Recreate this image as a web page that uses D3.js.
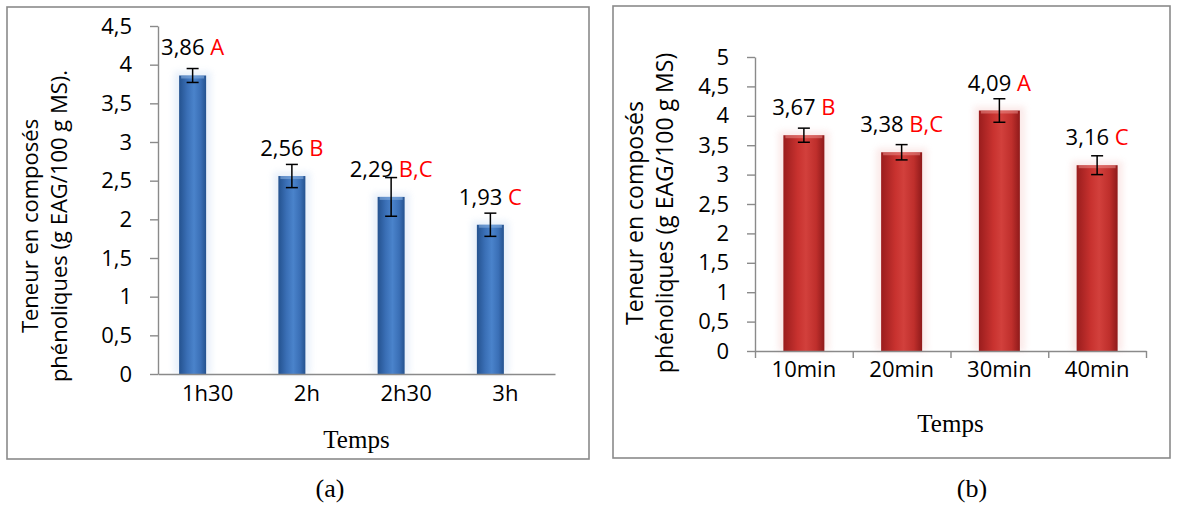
<!DOCTYPE html>
<html>
<head>
<meta charset="utf-8">
<script src="https://cdn.jsdelivr.net/npm/d3@7"></script>
<style>
  body { margin: 0; background: #fff; }
  svg { display: block; }
  .axis path, .axis line { stroke: #8a8a8a; stroke-width: 1.4; }
  .axis text { font-family: "Open Sans", sans-serif; fill: #000; }
</style>
</head>
<body>
<div id="chart"></div>
<script>
// panneau (a) : durée de macération
const catsA = ['1h30', '2h', '2h30', '3h'];
const valsA = [3.86, 2.56, 2.29, 1.93];
const errA = [0.09, 0.15, 0.25, 0.15];
const lettersA = ['A', 'B', 'B,C', 'C'];
const ticksA = [0, 0.5, 1, 1.5, 2, 2.5, 3, 3.5, 4, 4.5];

// panneau (b) : durée d'extraction
const catsB = ['10min', '20min', '30min', '40min'];
const valsB = [3.67, 3.38, 4.09, 3.16];
const errB = [0.12, 0.13, 0.20, 0.16];
const lettersB = ['B', 'B,C', 'A', 'C'];
const ticksB = [0, 0.5, 1, 1.5, 2, 2.5, 3, 3.5, 4, 4.5, 5];

const fmt = v => String(v).replace('.', ',');

const svg = d3.select('#chart')
    .append('svg')
    .attr('width', 1178)
    .attr('height', 527);

const defs = svg.append('defs');

function makeGradient(id, stops) {
    const g = defs.append('linearGradient')
        .attr('id', id)
        .attr('x1', '0%').attr('x2', '100%')
        .attr('y1', '0%').attr('y2', '0%');
    stops.forEach(s => g.append('stop').attr('offset', s[0]).attr('stop-color', s[1]));
}
makeGradient('gradBlue', [['0%', '#24528f'], ['30%', '#3a6fb6'], ['55%', '#4a83cb'], ['80%', '#3a6fb6'], ['100%', '#24528f']]);
makeGradient('gradRed', [['0%', '#9a1d1d'], ['35%', '#c8322f'], ['55%', '#d2403c'], ['80%', '#bf2f2c'], ['100%', '#8f1a1a']]);

defs.append('filter')
    .attr('id', 'halo')
    .attr('x', '-50%').attr('y', '-20%').attr('width', '200%').attr('height', '140%')
    .append('feGaussianBlur')
    .attr('stdDeviation', 3);

function drawPanel(cfg) {
    const g = svg.append('g');

    // cadre
    g.append('rect')
        .attr('x', cfg.box[0]).attr('y', cfg.box[1])
        .attr('width', cfg.box[2]).attr('height', cfg.box[3])
        .attr('fill', 'none')
        .attr('stroke', '#8a8a8a')
        .attr('stroke-width', 1.6);

    const x = d3.scaleBand()
        .domain(cfg.cats)
        .range(cfg.xRange)
        .paddingInner(0).paddingOuter(0);

    const y = d3.scaleLinear()
        .domain([0, cfg.yMax])
        .range(cfg.yRange);

    const cx = c => x(c) + x.bandwidth() / 2 + cfg.barShift;

    // halo autour des barres
    g.selectAll('.halo')
        .data(cfg.vals)
        .enter().append('rect')
        .attr('x', (d, i) => cx(cfg.cats[i]) - cfg.barW / 2 - 5)
        .attr('y', d => y(d) - 4)
        .attr('width', cfg.barW + 10)
        .attr('height', d => y(0) - y(d) + 4)
        .attr('fill', cfg.haloColor)
        .attr('opacity', 0.35)
        .attr('filter', 'url(#halo)');

    g.selectAll('.bar')
        .data(cfg.vals)
        .enter().append('rect')
        .attr('x', (d, i) => cx(cfg.cats[i]) - cfg.barW / 2)
        .attr('y', d => y(d))
        .attr('width', cfg.barW)
        .attr('height', d => y(0) - y(d))
        .attr('fill', cfg.fill);

    // reflet en haut de barre
    g.selectAll('.cap')
        .data(cfg.vals)
        .enter().append('rect')
        .attr('x', (d, i) => cx(cfg.cats[i]) - cfg.barW / 2 + 2)
        .attr('y', d => y(d))
        .attr('width', cfg.barW - 4)
        .attr('height', 3)
        .attr('fill', cfg.capColor)
        .attr('opacity', 0.55);

    // axes
    const yAxis = g.append('g')
        .attr('class', 'axis')
        .attr('transform', `translate(${cfg.xRange[0]},0)`)
        .call(d3.axisLeft(y).tickValues(cfg.ticks).tickFormat(fmt)
            .tickSize(8).tickSizeOuter(0).tickPadding(18));
    yAxis.selectAll('text').style('font-size', cfg.tickFont + 'px');

    const xAxis = g.append('g')
        .attr('class', 'axis')
        .attr('transform', `translate(0,${cfg.yRange[0]})`)
        .call(d3.axisBottom(x).tickSize(0).tickSizeOuter(0));
    xAxis.selectAll('text')
        .attr('y', cfg.catLabelY)
        .attr('dy', 0)
        .style('font-size', cfg.tickFont + 'px');

    if (cfg.boundaryTicks) {
        const xb = d3.scaleLinear().domain([0, cfg.cats.length]).range(cfg.xRange);
        const tb = g.append('g')
            .attr('class', 'axis')
            .attr('transform', `translate(0,${cfg.yRange[0]})`)
            .call(d3.axisBottom(xb).tickValues(d3.range(cfg.cats.length + 1))
                .tickFormat('').tickSize(7).tickSizeOuter(0));
        tb.select('.domain').remove();
    }

    // barres d'erreur
    const eb = g.selectAll('.err')
        .data(cfg.vals)
        .enter().append('g');
    eb.append('line')
        .attr('x1', (d, i) => cx(cfg.cats[i])).attr('x2', (d, i) => cx(cfg.cats[i]))
        .attr('y1', (d, i) => y(d + cfg.err[i])).attr('y2', (d, i) => y(d - cfg.err[i]))
        .attr('stroke', '#000').attr('stroke-width', 1.5);
    [1, -1].forEach(s => {
        eb.append('line')
            .attr('x1', (d, i) => cx(cfg.cats[i]) - 6).attr('x2', (d, i) => cx(cfg.cats[i]) + 6)
            .attr('y1', (d, i) => y(d + s * cfg.err[i])).attr('y2', (d, i) => y(d + s * cfg.err[i]))
            .attr('stroke', '#000').attr('stroke-width', 1.5);
    });

    // étiquettes de valeurs
    const lab = g.selectAll('.lab')
        .data(cfg.vals)
        .enter().append('text')
        .attr('x', (d, i) => cx(cfg.cats[i]))
        .attr('y', d => y(d) - 20)
        .attr('text-anchor', 'middle')
        .style('font-family', '"Open Sans", sans-serif')
        .style('font-size', cfg.labFont + 'px');
    lab.append('tspan').attr('fill', '#000').text(d => fmt(d.toFixed(2)));
    lab.append('tspan').attr('fill', '#ff0000').text((d, i) => ' ' + cfg.letters[i]);

    // titre de l'axe Y, deux lignes
    const ty = g.append('text')
        .attr('transform', `translate(${cfg.yTitleX},${cfg.yTitleY}) rotate(-90)`)
        .attr('text-anchor', 'middle')
        .style('font-family', '"Open Sans", sans-serif')
        .style('font-size', cfg.titleFont + 'px');
    ty.append('tspan').attr('x', 0).attr('y', 0).text('Teneur en composés');
    ty.append('tspan').attr('x', 0).attr('y', cfg.lineGap).text(cfg.yTitle2);

    g.append('text')
        .attr('x', (cfg.xRange[0] + cfg.xRange[1]) / 2)
        .attr('y', cfg.xTitleY)
        .attr('text-anchor', 'middle')
        .style('font-family', '"Liberation Serif", "Times New Roman", serif')
        .style('font-size', '25px')
        .text('Temps');

    svg.append('text')
        .attr('x', cfg.captionX)
        .attr('y', 497)
        .attr('text-anchor', 'middle')
        .style('font-family', '"Liberation Serif", "Times New Roman", serif')
        .style('font-size', '26px')
        .text(cfg.caption);
}

drawPanel({
    cats: catsA, vals: valsA, err: errA, letters: lettersA, ticks: ticksA,
    yMax: 4.5, xRange: [158, 555], yRange: [374, 26],
    barW: 27, barShift: -15,
    fill: 'url(#gradBlue)', capColor: '#8db4e4', haloColor: '#bcd3f0',
    box: [7, 7, 582, 452],
    tickFont: 22, labFont: 22, titleFont: 22, lineGap: 29,
    catLabelY: 27, yTitleX: 38, yTitleY: 226,
    yTitle2: 'phénoliques (g EAG/100 g MS).',
    xTitleY: 448, boundaryTicks: false,
    caption: '(a)', captionX: 330
});

drawPanel({
    cats: catsB, vals: valsB, err: errB, letters: lettersB, ticks: ticksB,
    yMax: 5, xRange: [755, 1146], yRange: [351, 57],
    barW: 41, barShift: 0,
    fill: 'url(#gradRed)', capColor: '#e98a86', haloColor: '#f3c2c0',
    box: [613, 6, 557, 452],
    tickFont: 22, labFont: 22, titleFont: 23, lineGap: 30,
    catLabelY: 26, yTitleX: 643, yTitleY: 213,
    yTitle2: 'phénoliques (g EAG/100 g MS)',
    xTitleY: 432, boundaryTicks: true,
    caption: '(b)', captionX: 972
});
</script>
</body>
</html>
